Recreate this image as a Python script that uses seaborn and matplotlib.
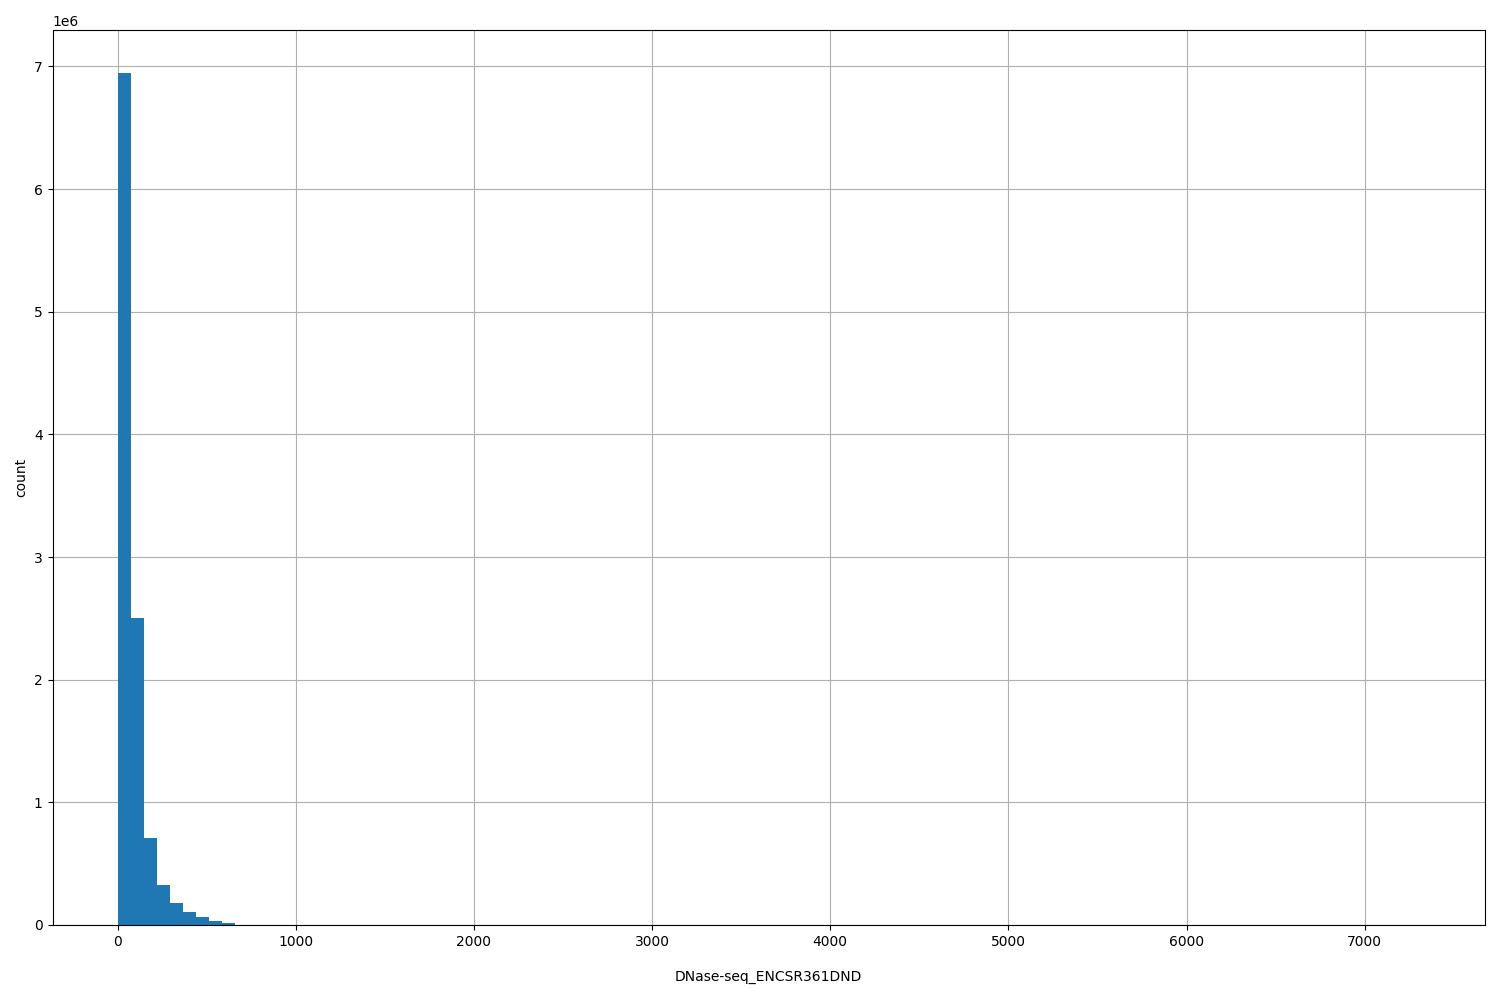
import matplotlib
matplotlib.use("Agg")
import matplotlib.pyplot as plt
import numpy as np
import pandas as pd
import seaborn as sns

# Histogram of DNase-seq signal, 100 equal bins from 0 to max value
x_min = 0.0
x_max = 7310.0
n_bins = 100

# counts per bin (tail estimated)
counts = [
    6950000, 2505000, 713000, 326000, 179000, 106000, 65000, 33000, 15000, 900,
    500, 300, 180, 110, 70, 45, 30, 20, 14, 10,
    7, 5, 4, 3, 2, 2, 1, 1, 1, 1,
    1, 1, 0, 1, 0, 1, 0, 0, 1, 0,
    0, 0, 1, 0, 0, 0, 0, 0, 0, 0,
    0, 0, 0, 0, 0, 0, 0, 0, 0, 0,
    0, 0, 0, 0, 0, 0, 0, 0, 0, 0,
    0, 0, 0, 0, 0, 0, 0, 0, 0, 0,
    0, 0, 0, 0, 0, 0, 0, 0, 0, 0,
    0, 0, 0, 0, 0, 0, 0, 0, 0, 1,
]

x_label = "DNase-seq_ENCSR361DND"
y_label = "count"

edges = np.linspace(x_min, x_max, n_bins + 1)
df = pd.DataFrame({
    "value": (edges[:-1] + edges[1:]) / 2,
    "n": counts,
})

fig, ax = plt.subplots(figsize=(15, 10), dpi=100)
fig.subplots_adjust(left=0.035, right=0.99, top=0.97, bottom=0.075)

sns.histplot(
    data=df,
    x="value",
    weights="n",
    bins=n_bins,
    binrange=(x_min, x_max),
    color="#1f77b4",
    alpha=1.0,
    linewidth=0,
    ax=ax,
)

ax.set_axisbelow(True)
ax.grid(True, color="#b0b0b0", linewidth=0.8)
ax.set_xlabel(x_label, labelpad=15)
ax.set_ylabel(y_label)

fig.savefig("out.png", dpi=100)
plt.close(fig)
